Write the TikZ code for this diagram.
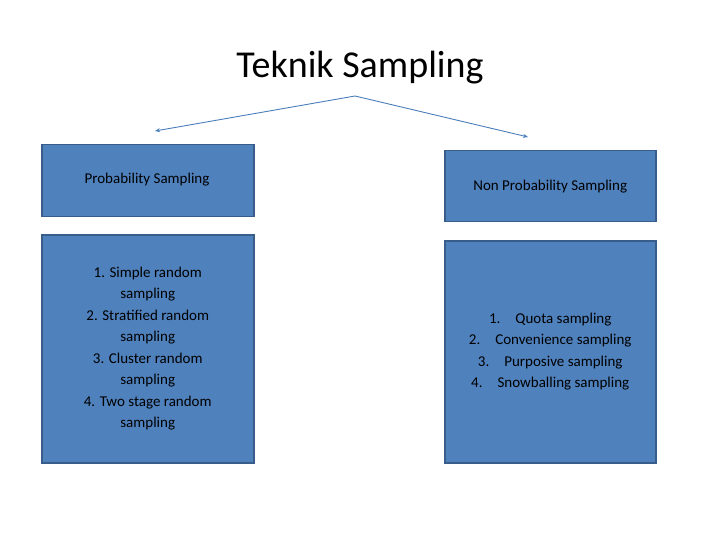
\documentclass[tikz,border=0pt]{standalone}
\usepackage{fontspec}
\setmainfont{Carlito}
\usetikzlibrary{arrows.meta}
\begin{document}
\begin{tikzpicture}[x=1pt,y=-1pt,
  box/.style={draw=boxedge,line width=1.5pt,fill=boxfill,align=center,font=\fontsize{15}{21.5}\selectfont,text=black},
  conn/.style={draw=linecol,line width=0.9pt,-{Stealth[length=5pt,width=4pt]}}]
\definecolor{boxfill}{HTML}{4F81BD}
\definecolor{boxedge}{HTML}{385D8A}
\definecolor{linecol}{HTML}{4A7EBB}
\useasboundingbox (0,0) rectangle (720,540);
\node[font=\fontsize{38}{42}\selectfont] (title) at (360,68) {Teknik Sampling};
\coordinate (top) at (355,96);
\node[box,minimum width=212pt,minimum height=72pt,anchor=north west] (p) at (41,144) {};
\node[box,anchor=center,fill=none,draw=none] at (147,180) {Probability Sampling};
\node[box,minimum width=212pt,minimum height=228pt,anchor=north west] (pl) at (41,234) {1. Simple random\\sampling\\2. Stratified random\\sampling\\3. Cluster random\\sampling\\4. Two stage random\\sampling};
\node[box,minimum width=211pt,minimum height=71pt,anchor=north west] (n) at (444,150) {Non Probability Sampling};
\node[box,minimum width=211pt,minimum height=222pt,anchor=north west] (nl) at (444,240) {1.\quad Quota sampling\\2.\quad Convenience sampling\\3.\quad Purposive sampling\\4.\quad Snowballing sampling};
\coordinate (la) at (155,131);
\coordinate (ra) at (528,137);
\draw[conn] (top) -- (la);
\draw[conn] (top) -- (ra);
\end{tikzpicture}
\end{document}
